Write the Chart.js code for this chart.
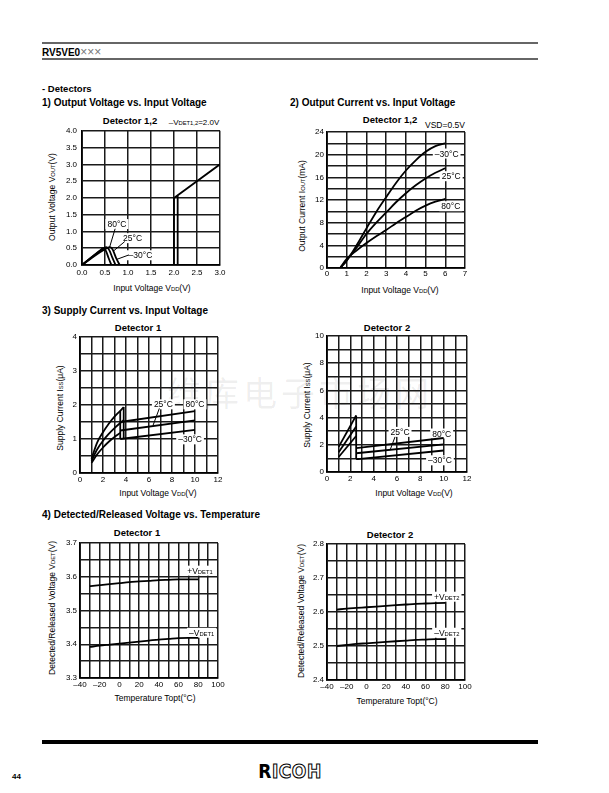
<!DOCTYPE html>
<html>
<head>
<meta charset="utf-8">
<script src="https://cdn.jsdelivr.net/npm/chart.js@4.4.1/dist/chart.umd.min.js"></script>
<style>
  body { margin: 0; width: 609px; height: 793px; background: #fff; position: relative; overflow: hidden;
         font-family: "Liberation Sans", Arial, sans-serif; color: #000; }
  .t { position: absolute; white-space: nowrap; line-height: 12px; }
  .hd { font-weight: bold; font-size: 10px; }
  .ttl { font-weight: bold; font-size: 9.5px; transform: translate(-50%, -50%); }
  .ax { font-size: 8.5px; transform: translate(-50%, -50%); }
  .ay { font-size: 8.5px; transform: translate(-50%, -50%) rotate(-90deg); }
  .s { font-size: 5.8px; }
  .rule { position: absolute; left: 42px; width: 496px; }
  canvas { position: absolute; }
</style>
</head>
<body>
<div class="rule" style="top:42px;height:1.5px;background:#666"></div>
<div class="t hd" style="left:42px;top:46px">RV5VE0<span style="font-weight:normal;color:#777;font-size:12px">×××</span></div>
<div class="rule" style="top:58px;height:1.5px;background:#666"></div>

<div class="t hd" style="left:42px;top:83px;font-size:9.5px">- Detectors</div>
<div class="t hd" style="left:42px;top:97px">1) Output Voltage vs. Input Voltage</div>
<div class="t hd" style="left:290px;top:97px">2) Output Current vs. Input Voltage</div>
<div class="t hd" style="left:42px;top:305px">3) Supply Current vs. Input Voltage</div>
<div class="t hd" style="left:42px;top:509px">4) Detected/Released Voltage vs. Temperature</div>

<div class="t ttl" style="left:130px;top:121px">Detector 1,2</div>
<div class="t ax" style="left:194px;top:123px;font-size:8px">–V<span class="s">DET1,2</span>=2.0V</div>
<div class="t ttl" style="left:390px;top:120px">Detector 1,2</div>
<div class="t ax" style="left:445px;top:125px;font-size:8.5px">VSD=0.5V</div>
<div class="t ttl" style="left:138px;top:328px">Detector 1</div>
<div class="t ttl" style="left:387px;top:328px">Detector 2</div>
<div class="t ttl" style="left:137px;top:533px">Detector 1</div>
<div class="t ttl" style="left:390px;top:535px">Detector 2</div>

<div class="t ay" style="left:52px;top:197px">Output Voltage V<span class="s">OUT</span>(V)</div>
<div class="t ax" style="left:152px;top:288px">Input Voltage V<span class="s">DD</span>(V)</div>
<div class="t ay" style="left:302px;top:206px">Output Current I<span class="s">OUT</span>(mA)</div>
<div class="t ax" style="left:400px;top:290px">Input Voltage V<span class="s">DD</span>(V)</div>
<div class="t ay" style="left:60px;top:408px">Supply Current I<span class="s">SS</span>(μA)</div>
<div class="t ax" style="left:158px;top:493px">Input Voltage V<span class="s">DD</span>(V)</div>
<div class="t ay" style="left:307px;top:405px">Supply Current I<span class="s">SS</span>(μA)</div>
<div class="t ax" style="left:414px;top:493px">Input Voltage V<span class="s">DD</span>(V)</div>
<div class="t ay" style="left:52px;top:608px">Detected/Released Voltage V<span class="s">DET</span>(V)</div>
<div class="t ax" style="left:155px;top:698px">Temperature Topt(°C)</div>
<div class="t ay" style="left:301px;top:611px">Detected/Released Voltage V<span class="s">DET</span>(V)</div>
<div class="t ax" style="left:397px;top:701px">Temperature Topt(°C)</div>

<div class="t" style="left:300px;top:392px;transform:translate(-50%,-50%);font-family:'Noto Sans CJK SC';font-size:34px;line-height:40px;letter-spacing:4px;color:rgba(0,0,0,0.07)">维库电子市场网</div>

<div class="rule" style="top:740px;height:4px;background:#000"></div>
<div class="t" style="left:12px;top:771px;font-size:8px;font-weight:bold">44</div>
<div class="t" style="left:290px;top:771px;transform:translate(-50%,-50%);font-family:'Liberation Sans Narrow','DejaVu Sans Condensed',sans-serif;font-weight:bold;font-size:19px;line-height:20px;letter-spacing:0.5px">R<span style="color:#fff;-webkit-text-stroke:1px #000">ICOH</span></div>

<script>
// 1) output voltage vs input voltage
const c1XTicks = [0, 0.5, 1, 1.5, 2, 2.5, 3];
const c1XLabels = ['0.0', '0.5', '1.0', '1.5', '2.0', '2.5', '3.0'];
const c1YTicks = [0, 0.5, 1, 1.5, 2, 2.5, 3, 3.5, 4];
const c1YLabels = ['0.0', '0.5', '1.0', '1.5', '2.0', '2.5', '3.0', '3.5', '4.0'];
const c1HumpM30 = [[0, 0], [0.4, 0.44], [0.46, 0.5], [0.52, 0.42], [0.58, 0.2], [0.64, 0]];
const c1Hump25 = [[0, 0], [0.47, 0.49], [0.53, 0.53], [0.59, 0.45], [0.66, 0.22], [0.73, 0]];
const c1Hump80 = [[0, 0], [0.54, 0.5], [0.61, 0.53], [0.67, 0.45], [0.74, 0.21], [0.82, 0]];
const c1Release = [[2.0, 0], [2.0, 2.0], [3.0, 3.0]];
const c1Detect = [[2.08, 0], [2.08, 2.07]];
const c1Leaders = [[[0.72, 1.08], [0.6, 0.53]], [[0.93, 0.7], [0.67, 0.4]], [[1.02, 0.3], [0.74, 0.16]]];
const c1Notes = ['80°C', '25°C', '–30°C'];

// 2) output current vs input voltage
const c2XTicks = [0, 1, 2, 3, 4, 5, 6, 7];
const c2XLabels = ['0', '1', '2', '3', '4', '5', '6', '7'];
const c2YTicks = [0, 2, 4, 6, 8, 10, 12, 14, 16, 18, 20, 22, 24];
const c2YLabels = ['0', '', '4', '', '8', '', '12', '', '16', '', '20', '', '24'];
const c2M30 = [[0.67, 0], [1, 1.3], [1.5, 4.0], [2, 7.0], [2.5, 9.9], [3, 12.5], [3.5, 15.0], [4, 17.2], [4.5, 19.0], [5, 20.5], [5.5, 21.5], [6, 22.0]];
const c2T25 = [[0.67, 0], [1, 1.4], [1.5, 3.6], [2, 6.0], [2.5, 8.0], [3, 9.8], [3.5, 11.6], [4, 13.2], [4.5, 14.6], [5, 15.8], [5.5, 16.8], [6, 17.6]];
const c2T80 = [[0.67, 0], [1, 1.6], [1.5, 3.1], [2, 4.4], [2.5, 5.6], [3, 6.7], [3.5, 7.9], [4, 9.0], [4.5, 10.1], [5, 11.0], [5.5, 11.7], [6, 12.2]];
const c2Notes = ['–30°C', '25°C', '80°C'];

// 3) supply current, detector 1
const c3XTicks = [0, 1, 2, 3, 4, 5, 6, 7, 8, 9, 10, 11, 12];
const c3XLabels = ['0', '', '2', '', '4', '', '6', '', '8', '', '10', '', '12'];
const c3YTicks = [0, 0.5, 1, 1.5, 2, 2.5, 3, 3.5, 4];
const c3YLabels = ['0', '', '1', '', '2', '', '3', '', '4'];
const c3Up80 = [[1, 0.42], [1.5, 0.9], [2, 1.2], [2.5, 1.45], [3, 1.66], [3.5, 1.83], [3.8, 1.94]];
const c3Up25 = [[1, 0.36], [1.5, 0.7], [2, 0.95], [2.5, 1.15], [3, 1.32], [3.5, 1.47], [3.8, 1.55]];
const c3UpM30 = [[1, 0.3], [1.5, 0.55], [2, 0.75], [2.5, 0.92], [3, 1.06], [3.5, 1.18]];
const c3Dn80 = [[3.5, 1.5], [10, 1.82]];
const c3Dn25 = [[3.5, 1.25], [10, 1.55]];
const c3DnM30 = [[3.5, 1.0], [10, 1.27]];
const c3Jumps = [[[3.5, 1.0], [3.5, 1.83]], [[3.8, 1.0], [3.8, 1.94]]];
const c3Leader = [[6.9, 1.9], [6.35, 1.4]];
const c3Notes = ['25°C', '80°C', '–30°C'];

// 3) supply current, detector 2
const c4XTicks = c3XTicks;
const c4XLabels = c3XLabels;
const c4YTicks = [0, 1, 2, 3, 4, 5, 6, 7, 8, 9, 10];
const c4YLabels = ['0', '', '2', '', '4', '', '6', '', '8', '', '10'];
const c4Up80 = [[1, 1.85], [2.5, 4.15]];
const c4Up25 = [[1, 1.45], [2.5, 3.35]];
const c4UpM30 = [[1, 1.1], [2.5, 2.65]];
const c4Dn80 = [[2.5, 1.75], [10, 2.5]];
const c4Dn25 = [[2.5, 1.38], [10, 2.03]];
const c4DnM30 = [[2.5, 0.95], [2.65, 0.95], [10, 1.58]];
const c4Jump = [[2.5, 0.95], [2.5, 4.15]];
const c4Leader = [[5.83, 2.58], [5.4, 1.6]];
const c4Notes = ['25°C', '80°C', '–30°C'];

// 4) detected / released voltage vs temperature
const tempTicks = [-40, -30, -20, -10, 0, 10, 20, 30, 40, 50, 60, 70, 80, 90, 100];
const tempLabels = ['–40', '', '–20', '', '0', '', '20', '', '40', '', '60', '', '80', '', '100'];
const tempPts = [-30, -20, -10, 0, 10, 20, 30, 40, 50, 60, 70, 80];
const c5YTicks = [3.3, 3.35, 3.4, 3.45, 3.5, 3.55, 3.6, 3.65, 3.7];
const c5YLabels = ['3.3', '', '3.4', '', '3.5', '', '3.6', '', '3.7'];
const c5Release = [3.572, 3.575, 3.578, 3.581, 3.584, 3.586, 3.588, 3.590, 3.591, 3.592, 3.592, 3.592];
const c5Detect = [3.392, 3.396, 3.399, 3.402, 3.405, 3.408, 3.411, 3.414, 3.416, 3.418, 3.419, 3.419];
const c6YTicks = [2.4, 2.45, 2.5, 2.55, 2.6, 2.65, 2.7, 2.75, 2.8];
const c6YLabels = ['2.4', '', '2.5', '', '2.6', '', '2.7', '', '2.8'];
const c6Release = [2.607, 2.610, 2.612, 2.614, 2.616, 2.618, 2.620, 2.622, 2.624, 2.625, 2.626, 2.627];
const c6Detect = [2.500, 2.503, 2.506, 2.508, 2.510, 2.512, 2.514, 2.516, 2.518, 2.519, 2.520, 2.520];

const FONT = '"Liberation Sans", Arial, sans-serif';
Chart.defaults.font.family = FONT;
Chart.defaults.font.size = 8;
Chart.defaults.color = '#000';

// labels with white box, drawn over the grid but under the curves
const noteText = {
  id: 'noteText',
  beforeDatasetsDraw(chart, args, opts) {
    const ctx = chart.ctx;
    const xs = chart.scales.x, ys = chart.scales.y;
    (opts.items || []).forEach((n) => {
      const px = xs.getPixelForValue(n.x), py = ys.getPixelForValue(n.y);
      let w = 0;
      n.parts.forEach((p) => {
        ctx.font = (p[1] ? '5.8px ' : '8.5px ') + FONT;
        w += ctx.measureText(p[0]).width;
      });
      ctx.save();
      ctx.fillStyle = '#fff';
      ctx.fillRect(px - w / 2 - 2, py - 5, w + 4, 10);
      ctx.fillStyle = '#000';
      ctx.textBaseline = 'alphabetic';
      let cx = px - w / 2;
      n.parts.forEach((p) => {
        ctx.font = (p[1] ? '5.8px ' : '8.5px ') + FONT;
        ctx.fillText(p[0], cx, py + 3);
        cx += ctx.measureText(p[0]).width;
      });
      ctx.restore();
    });
  },
};

function pts(pairs) {
  return pairs.map(([x, y]) => ({ x, y }));
}

function line(pairs, smooth) {
  return {
    data: pts(pairs),
    showLine: true,
    borderColor: '#000',
    borderWidth: 1.8,
    pointRadius: 0,
    fill: false,
    tension: 0,
    cubicInterpolationMode: smooth ? 'monotone' : 'default',
  };
}

function makeChart(box, xAx, yAx, datasets, notes) {
  const padL = 30, padT = 8, padR = 12, padB = 18;
  const cv = document.createElement('canvas');
  const w = box[2] - box[0] + padL + padR;
  const h = box[3] - box[1] + padT + padB;
  cv.width = w;
  cv.height = h;
  cv.style.left = box[0] - padL + 'px';
  cv.style.top = box[1] - padT + 'px';
  document.body.appendChild(cv);

  const axis = (a, isX) => ({
    type: 'linear',
    min: a.ticks[0],
    max: a.ticks[a.ticks.length - 1],
    afterFit: (s) => {
      if (isX) s.height = padB;
      else s.width = padL;
    },
    afterBuildTicks: (s) => {
      s.ticks = a.ticks.map((v) => ({ value: v }));
    },
    grid: { color: '#1a1a1a', lineWidth: 1.5, drawTicks: false },
    border: { color: '#000', width: 1.8 },
    ticks: {
      padding: a.pad,
      autoSkip: false,
      maxRotation: 0,
      callback: (v, i) => a.labels[i],
    },
  });

  return new Chart(cv, {
    type: 'scatter',
    data: { datasets },
    options: {
      responsive: false,
      animation: false,
      events: [],
      layout: { padding: { top: padT, right: padR, left: 0, bottom: 0 } },
      scales: { x: axis(xAx, true), y: axis(yAx, false) },
      plugins: { legend: { display: false }, tooltip: { enabled: false }, noteText: { items: notes } },
    },
    plugins: [noteText],
  });
}

const temp = (vals) => tempPts.map((t, i) => [t, vals[i]]);

makeChart([82, 129, 220, 265],
  { ticks: c1XTicks, labels: c1XLabels, pad: 3 },
  { ticks: c1YTicks, labels: c1YLabels, pad: 5 },
  [line(c1HumpM30, true), line(c1Hump25, true), line(c1Hump80, true),
   line(c1Release), line(c1Detect), ...c1Leaders.map((l) => ({ ...line(l), borderWidth: 1 }))],
  [{ x: 0.76, y: 1.22, parts: [[c1Notes[0]]] },
   { x: 1.1, y: 0.8, parts: [[c1Notes[1]]] },
   { x: 1.27, y: 0.29, parts: [[c1Notes[2]]] }]);

makeChart([327, 132, 465, 268],
  { ticks: c2XTicks, labels: c2XLabels, pad: 1 },
  { ticks: c2YTicks, labels: c2YLabels, pad: 3 },
  [line(c2M30, true), line(c2T25, true), line(c2T80, true)],
  [{ x: 6.07, y: 20.2, parts: [[c2Notes[0]]] },
   { x: 6.3, y: 16.2, parts: [[c2Notes[1]]] },
   { x: 6.28, y: 10.9, parts: [[c2Notes[2]]] }]);

makeChart([80, 337, 218, 473],
  { ticks: c3XTicks, labels: c3XLabels, pad: 2 },
  { ticks: c3YTicks, labels: c3YLabels, pad: 3 },
  [line(c3Up80, true), line(c3Up25, true), line(c3UpM30, true),
   line(c3Dn80), line(c3Dn25), line(c3DnM30), ...c3Jumps.map((j) => line(j)),
   { ...line(c3Leader), borderWidth: 1 }],
  [{ x: 7.25, y: 2.02, parts: [[c3Notes[0]]] },
   { x: 10.0, y: 2.02, parts: [[c3Notes[1]]] },
   { x: 9.57, y: 0.99, parts: [[c3Notes[2]]] }]);

makeChart([327, 336, 467, 472],
  { ticks: c4XTicks, labels: c4XLabels, pad: 2 },
  { ticks: c4YTicks, labels: c4YLabels, pad: 3 },
  [line(c4Up80), line(c4Up25), line(c4UpM30),
   line(c4Dn80), line(c4Dn25), line(c4DnM30), line(c4Jump),
   { ...line(c4Leader), borderWidth: 1 }],
  [{ x: 6.26, y: 2.95, parts: [[c4Notes[0]]] },
   { x: 9.83, y: 2.83, parts: [[c4Notes[1]]] },
   { x: 9.68, y: 0.86, parts: [[c4Notes[2]]] }]);

makeChart([80, 543, 218, 678],
  { ticks: tempTicks, labels: tempLabels, pad: 2 },
  { ticks: c5YTicks, labels: c5YLabels, pad: 3 },
  [line(temp(c5Release), true), line(temp(c5Detect), true)],
  [{ x: 81.7, y: 3.618, parts: [['+V'], ['DET1', 1]] },
   { x: 83.4, y: 3.434, parts: [['–V'], ['DET1', 1]] }]);

makeChart([327, 544, 465, 680],
  { ticks: tempTicks, labels: tempLabels, pad: 2 },
  { ticks: c6YTicks, labels: c6YLabels, pad: 3 },
  [line(temp(c6Release), true), line(temp(c6Detect), true)],
  [{ x: 81.5, y: 2.645, parts: [['+V'], ['DET2', 1]] },
   { x: 81.5, y: 2.539, parts: [['–V'], ['DET2', 1]] }]);
</script>
</body>
</html>
